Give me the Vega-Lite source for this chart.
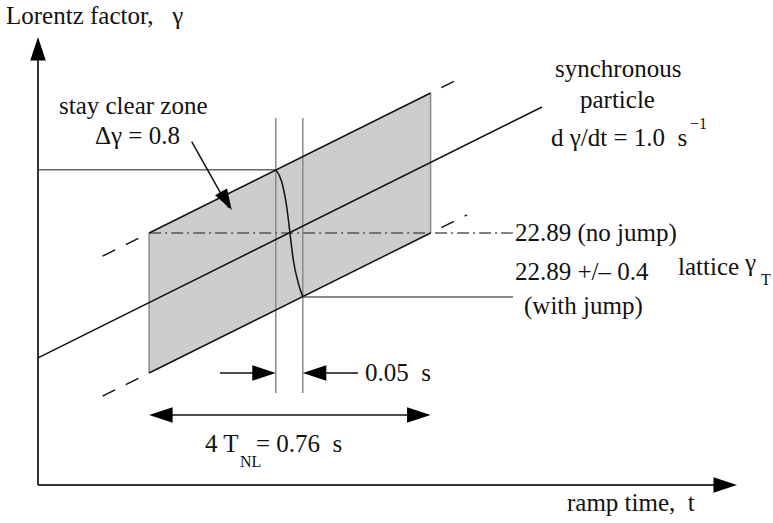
{
  "$schema": "https://vega.github.io/schema/vega-lite/v6.json",
  "width": 773,
  "height": 523,
  "padding": 0,
  "autosize": {"type": "fit", "contains": "padding"},
  "background": "white",
  "config": {"view": {"stroke": null}},
  "datasets": {
    "zone": [
      {"t": 0.30, "g": 22.09, "g2": 22.89},
      {"t": 1.06, "g": 22.89, "g2": 23.69}
    ],
    "segs": [
      {"kind": "axis", "t": 0, "g": 21.45, "t2": 0, "g2": 23.95},
      {"kind": "axis", "t": 0, "g": 21.45, "t2": 1.86, "g2": 21.45},
      {"kind": "level", "t": 0, "g": 23.252, "t2": 0.642, "g2": 23.252},
      {"kind": "level", "t": 0.715, "g": 22.525, "t2": 1.2825, "g2": 22.525},
      {"kind": "jumpline", "t": 0.642, "g": 21.976, "t2": 0.642, "g2": 23.547},
      {"kind": "jumpline", "t": 0.715, "g": 21.976, "t2": 0.715, "g2": 23.547},
      {"kind": "edge", "t": 0.30, "g": 22.09, "t2": 0.30, "g2": 22.89},
      {"kind": "edge", "t": 1.06, "g": 22.89, "t2": 1.06, "g2": 23.69},
      {"kind": "dashdot", "t": 0.30, "g": 22.89, "t2": 1.2825, "g2": 22.89},
      {"kind": "solid", "t": 0, "g": 22.176, "t2": 1.3608, "g2": 23.61},
      {"kind": "solid", "t": 0.30, "g": 22.89, "t2": 1.06, "g2": 23.69},
      {"kind": "solid", "t": 0.30, "g": 22.09, "t2": 1.06, "g2": 22.89},
      {"kind": "solid", "t": 0.4914, "g": 22.09, "t2": 0.63, "g2": 22.09},
      {"kind": "solid", "t": 0.725, "g": 22.09, "t2": 0.864, "g2": 22.09},
      {"kind": "solid", "t": 0.31, "g": 21.85, "t2": 1.05, "g2": 21.85},
      {"kind": "solid", "t": 0.415, "g": 23.412, "t2": 0.515, "g2": 23.035},
      {"kind": "dashed", "t": 0.30, "g": 22.89, "t2": 0.1485, "g2": 22.7305},
      {"kind": "dashed", "t": 1.06, "g": 23.69, "t2": 1.1286, "g2": 23.762},
      {"kind": "dashed", "t": 0.30, "g": 22.09, "t2": 0.1485, "g2": 21.9305},
      {"kind": "dashed", "t": 1.06, "g": 22.89, "t2": 1.1583, "g2": 22.9935}
    ],
    "jump": [
      {"t": 0.642, "g": 23.252},
      {"t": 0.658, "g": 23.183},
      {"t": 0.6715, "g": 23.040},
      {"t": 0.6804, "g": 22.888},
      {"t": 0.6893, "g": 22.736},
      {"t": 0.7028, "g": 22.603},
      {"t": 0.715, "g": 22.525}
    ],
    "heads": [
      {"dir": "up", "t": 0, "g": 24.01},
      {"dir": "right", "t": 1.8873, "g": 21.45},
      {"dir": "right", "t": 0.642, "g": 22.09},
      {"dir": "left", "t": 0.715, "g": 22.09},
      {"dir": "left", "t": 0.30, "g": 21.85},
      {"dir": "right", "t": 1.06, "g": 21.85},
      {"dir": "downright", "t": 0.523, "g": 23.021}
    ],
    "labels": [
      {"t": -0.0864, "g": 24.084, "label": "Lorentz factor,\u00a0\u00a0\u00a0γ"},
      {"t": 0.0567, "g": 23.57, "label": "stay clear zone"},
      {"t": 0.1539, "g": 23.399, "label": "Δγ = 0.8"},
      {"t": 1.3959, "g": 23.781, "label": "synchronous"},
      {"t": 1.4634, "g": 23.604, "label": "particle"},
      {"t": 1.3851, "g": 23.387, "label": "d\u00a0γ/dt = 1.0\u00a0\u00a0s"},
      {"t": 1.2879, "g": 22.844, "label": "22.89 (no jump)"},
      {"t": 1.2879, "g": 22.621, "label": "22.89 +/– 0.4"},
      {"t": 1.3122, "g": 22.427, "label": "(with jump)"},
      {"t": 1.728, "g": 22.65, "label": "lattice"},
      {"t": 1.9089, "g": 22.672, "label": "γ"},
      {"t": 0.8829, "g": 22.044, "label": "0.05\u00a0\u00a0s"},
      {"t": 0.4509, "g": 21.639, "label": "4 T"},
      {"t": 0.5886, "g": 21.639, "label": "= 0.76\u00a0\u00a0s"},
      {"t": 1.4283, "g": 21.301, "label": "ramp time,\u00a0\u00a0t"}
    ],
    "subs": [
      {"t": 1.7604, "g": 23.484, "label": "−1"},
      {"t": 1.9521, "g": 22.593, "label": "T"},
      {"t": 0.5454, "g": 21.553, "label": "NL"}
    ]
  },
  "encoding": {
    "x": {"field": "t", "type": "quantitative", "axis": null, "scale": {"domain": [-0.1026, 1.9845], "nice": false, "zero": false}},
    "y": {"field": "g", "type": "quantitative", "axis": null, "scale": {"domain": [21.23286, 24.22143], "nice": false, "zero": false}}
  },
  "layer": [
    {
      "data": {"name": "zone"},
      "mark": {"type": "area", "fill": "#cdcdcd", "opacity": 1},
      "encoding": {"y2": {"field": "g2"}}
    },
    {
      "data": {"name": "segs"},
      "transform": [{"filter": "datum.kind === 'edge' || datum.kind === 'jumpline'"}],
      "mark": {"type": "rule", "color": "#8a8a8a", "strokeWidth": 1.5},
      "encoding": {"x2": {"field": "t2"}, "y2": {"field": "g2"}}
    },
    {
      "data": {"name": "segs"},
      "transform": [{"filter": "datum.kind === 'dashdot'"}],
      "mark": {"type": "rule", "color": "#555555", "strokeWidth": 1.3, "strokeDash": [12, 4, 2, 4]},
      "encoding": {"x2": {"field": "t2"}, "y2": {"field": "g2"}}
    },
    {
      "data": {"name": "segs"},
      "transform": [{"filter": "datum.kind === 'level'"}],
      "mark": {"type": "rule", "color": "#666666", "strokeWidth": 1.5},
      "encoding": {"x2": {"field": "t2"}, "y2": {"field": "g2"}}
    },
    {
      "data": {"name": "segs"},
      "transform": [{"filter": "datum.kind === 'axis'"}],
      "mark": {"type": "rule", "color": "#333333", "strokeWidth": 2},
      "encoding": {"x2": {"field": "t2"}, "y2": {"field": "g2"}}
    },
    {
      "data": {"name": "segs"},
      "transform": [{"filter": "datum.kind === 'solid'"}],
      "mark": {"type": "rule", "color": "#111111", "strokeWidth": 1.5},
      "encoding": {"x2": {"field": "t2"}, "y2": {"field": "g2"}}
    },
    {
      "data": {"name": "segs"},
      "transform": [{"filter": "datum.kind === 'dashed'"}],
      "mark": {"type": "rule", "color": "#111111", "strokeWidth": 1.5, "strokeDash": [14, 12], "strokeDashOffset": 14},
      "encoding": {"x2": {"field": "t2"}, "y2": {"field": "g2"}}
    },
    {
      "data": {"name": "jump"},
      "mark": {"type": "line", "color": "#111111", "strokeWidth": 1.5, "interpolate": "monotone"},
      "encoding": {"order": {"field": "t", "type": "quantitative"}}
    },
    {
      "data": {"name": "heads"},
      "transform": [{"filter": "datum.dir === 'right'"}],
      "mark": {"type": "point", "shape": "M0,0L-1,-0.33L-1,0.33Z", "filled": true, "fill": "#000000", "strokeWidth": 0, "size": 2209, "opacity": 1}
    },
    {
      "data": {"name": "heads"},
      "transform": [{"filter": "datum.dir === 'left'"}],
      "mark": {"type": "point", "shape": "M0,0L1,-0.33L1,0.33Z", "filled": true, "fill": "#000000", "strokeWidth": 0, "size": 2209, "opacity": 1}
    },
    {
      "data": {"name": "heads"},
      "transform": [{"filter": "datum.dir === 'up'"}],
      "mark": {"type": "point", "shape": "M0,0L-0.33,1L0.33,1Z", "filled": true, "fill": "#000000", "strokeWidth": 0, "size": 2209, "opacity": 1}
    },
    {
      "data": {"name": "heads"},
      "transform": [{"filter": "datum.dir === 'downright'"}],
      "mark": {"type": "point", "shape": "M0,0L-0.2222,-1.0281L-0.7909,-0.7033Z", "filled": true, "fill": "#000000", "strokeWidth": 0, "size": 1764, "opacity": 1}
    },
    {
      "data": {"name": "labels"},
      "mark": {"type": "text", "align": "left", "baseline": "alphabetic", "font": "Liberation Serif, Times New Roman, DejaVu Serif, serif", "fontSize": 25, "color": "#111111"},
      "encoding": {"text": {"field": "label"}}
    },
    {
      "data": {"name": "subs"},
      "mark": {"type": "text", "align": "left", "baseline": "alphabetic", "font": "Liberation Serif, Times New Roman, DejaVu Serif, serif", "fontSize": 16, "color": "#111111"},
      "encoding": {"text": {"field": "label"}}
    }
  ]
}
